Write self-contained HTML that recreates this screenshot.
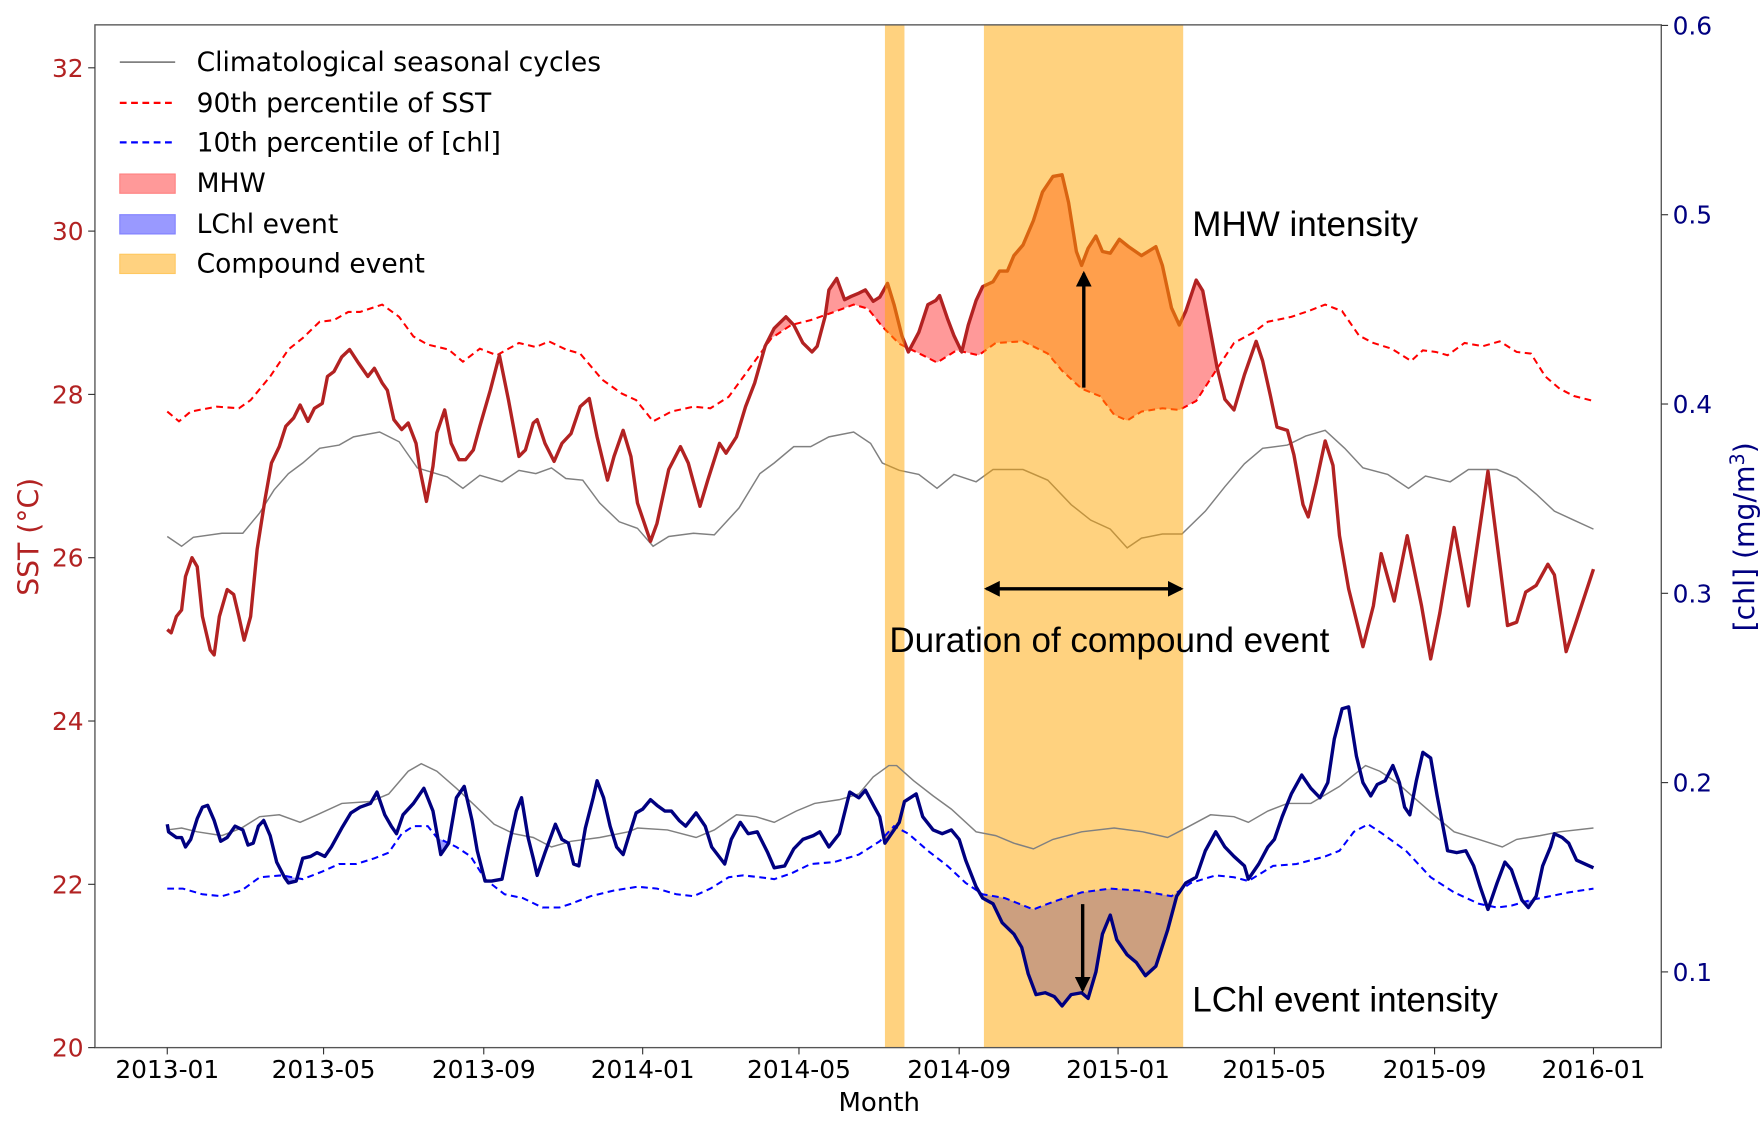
<!DOCTYPE html>
<html><head><meta charset="utf-8"><style>
html,body{margin:0;padding:0;background:#fff;}
svg{display:block;}
text{font-family:"DejaVu Sans","Liberation Sans",sans-serif;}
.ann{font-family:"Liberation Sans",sans-serif;}
</style></head><body>
<svg id="chart" width="1763" height="1123" viewBox="0 0 1560 993.7" xmlns="http://www.w3.org/2000/svg">
<g id="layer-fill"></g>
<g id="layer-sst"></g>
<g id="layer-band"></g>
<g id="layer-chl"></g>
<g id="layer-axes"></g>
</svg>
<script>
const sstDays=[0,3,7,11,14,19,23,27,33,36,40,46,51,55,59,64,69,75,80,86,91,97,102,108,113,119,123,128,134,140,147,154,159,165,169,174,180,185,191,194,199,204,207,213,218,224,229,235,240,248,255,262,270,275,281,284,290,297,303,310,317,324,330,338,343,350,356,361,371,376,385,394,400,409,415,424,429,437,444,451,459,466,475,481,488,495,499,505,508,514,520,525,531,536,542,547,553,558,564,569,577,584,590,593,599,604,610,615,621,626,634,639,645,650,657,665,672,680,687,692,698,702,707,713,718,724,731,738,748,753,759,764,771,777,782,790,795,801,806,812,819,827,836,841,847,852,860,865,872,876,882,889,895,900,907,918,926,932,942,952,963,970,977,988,999,1014,1029,1036,1043,1051,1060,1065,1074,1082,1095];
const sstVals=[25.12,25.08,25.28,25.36,25.77,26.0,25.89,25.28,24.87,24.81,25.28,25.61,25.55,25.28,24.99,25.28,26.1,26.71,27.16,27.36,27.61,27.71,27.87,27.67,27.83,27.89,28.22,28.28,28.46,28.55,28.38,28.22,28.32,28.14,28.05,27.69,27.57,27.65,27.4,27.08,26.69,27.12,27.53,27.81,27.4,27.2,27.2,27.32,27.61,28.05,28.48,27.93,27.24,27.32,27.65,27.69,27.4,27.18,27.4,27.52,27.85,27.95,27.48,26.95,27.24,27.56,27.24,26.67,26.2,26.42,27.08,27.36,27.16,26.63,26.95,27.4,27.28,27.48,27.85,28.14,28.59,28.81,28.95,28.85,28.63,28.52,28.59,28.95,29.28,29.42,29.16,29.2,29.24,29.28,29.14,29.19,29.36,29.1,28.72,28.52,28.76,29.1,29.15,29.21,28.93,28.72,28.52,28.85,29.15,29.32,29.38,29.51,29.51,29.7,29.83,30.13,30.48,30.67,30.69,30.35,29.75,29.58,29.79,29.94,29.75,29.73,29.9,29.81,29.7,29.75,29.81,29.58,29.06,28.85,29.02,29.4,29.27,28.76,28.33,27.94,27.81,28.24,28.65,28.41,27.98,27.6,27.56,27.26,26.65,26.5,26.91,27.43,27.13,26.27,25.62,24.91,25.41,26.05,25.47,26.27,25.41,24.76,25.32,26.37,25.41,27.06,25.17,25.21,25.58,25.66,25.92,25.79,24.85,25.23,25.86];
const sstP90Days=[0,9,18,38,55,64,79,93,104,117,128,139,148,165,178,189,200,216,227,240,253,270,283,293,306,317,334,349,360,373,387,404,417,431,448,464,479,494,512,527,538,549,562,580,591,606,623,636,657,676,687,702,716,727,737,748,764,777,790,805,819,834,845,863,876,889,902,915,926,940,955,964,974,983,996,1010,1023,1036,1047,1058,1069,1080,1095];
const sstP90Vals=[27.79,27.67,27.79,27.85,27.83,27.93,28.22,28.55,28.69,28.89,28.91,29.01,29.01,29.1,28.95,28.71,28.61,28.55,28.4,28.56,28.48,28.63,28.58,28.65,28.55,28.5,28.18,28.01,27.93,27.67,27.79,27.85,27.83,27.97,28.34,28.69,28.85,28.91,29.01,29.1,29.05,28.83,28.62,28.48,28.39,28.54,28.48,28.63,28.65,28.5,28.29,28.07,27.98,27.75,27.68,27.79,27.83,27.81,27.92,28.29,28.63,28.76,28.89,28.95,29.02,29.1,29.02,28.72,28.63,28.56,28.41,28.54,28.52,28.48,28.63,28.59,28.65,28.52,28.5,28.22,28.07,27.98,27.92];
const sstClimDays=[0,11,20,42,58,71,82,93,104,117,132,143,163,178,192,215,227,240,257,270,283,295,306,319,332,347,361,373,385,404,420,439,455,466,481,494,508,527,540,549,562,577,591,604,621,634,657,676,694,709,724,737,748,764,779,797,812,827,841,860,874,889,904,918,937,953,966,985,999,1021,1036,1051,1065,1080,1095];
const sstClimVals=[26.26,26.14,26.25,26.3,26.3,26.55,26.83,27.03,27.16,27.34,27.38,27.48,27.54,27.42,27.1,26.99,26.85,27.01,26.93,27.07,27.03,27.1,26.97,26.95,26.67,26.44,26.36,26.14,26.26,26.3,26.28,26.61,27.03,27.16,27.36,27.36,27.48,27.54,27.4,27.16,27.07,27.02,26.85,27.02,26.93,27.08,27.08,26.95,26.65,26.46,26.35,26.12,26.24,26.29,26.29,26.57,26.87,27.15,27.34,27.38,27.49,27.56,27.34,27.1,27.02,26.85,27.0,26.93,27.08,27.08,26.98,26.78,26.57,26.46,26.35];
const chlDays=[0,1,7,11,14,18,23,27,31,36,41,46,52,58,62,66,70,74,79,84,90,93,99,104,110,115,121,126,134,141,148,156,161,167,172,176,181,189,197,204,210,216,222,228,234,238,244,249,257,262,268,272,277,281,284,290,298,303,308,312,316,321,327,330,335,340,345,350,354,360,365,371,376,382,387,393,398,406,413,418,428,433,440,446,453,461,466,474,481,488,496,501,508,516,524,531,536,543,547,551,556,562,566,575,580,588,595,602,608,613,621,626,634,641,650,656,661,667,674,681,687,694,702,707,713,718,724,729,737,744,751,759,768,775,782,790,797,805,812,819,827,830,838,845,850,856,863,871,878,885,891,896,902,907,913,918,924,929,935,941,946,950,954,959,964,970,975,983,990,997,1003,1008,1014,1021,1027,1032,1040,1045,1051,1056,1062,1065,1071,1076,1082,1095];
const chlVals=[0.178,0.174,0.171,0.171,0.166,0.17,0.181,0.187,0.188,0.18,0.169,0.171,0.177,0.175,0.167,0.168,0.177,0.18,0.172,0.158,0.15,0.147,0.148,0.16,0.161,0.163,0.161,0.166,0.176,0.184,0.187,0.189,0.195,0.183,0.177,0.173,0.183,0.189,0.197,0.185,0.162,0.168,0.192,0.198,0.18,0.164,0.148,0.148,0.149,0.166,0.185,0.192,0.171,0.16,0.151,0.163,0.178,0.17,0.168,0.157,0.156,0.176,0.192,0.201,0.192,0.177,0.166,0.162,0.171,0.184,0.186,0.191,0.188,0.185,0.185,0.18,0.177,0.184,0.177,0.166,0.157,0.17,0.179,0.173,0.174,0.163,0.155,0.156,0.165,0.17,0.172,0.174,0.166,0.173,0.195,0.192,0.196,0.187,0.182,0.168,0.173,0.179,0.19,0.194,0.182,0.175,0.173,0.175,0.17,0.159,0.145,0.139,0.136,0.126,0.12,0.113,0.099,0.088,0.089,0.087,0.082,0.088,0.089,0.086,0.1,0.12,0.13,0.117,0.109,0.105,0.098,0.103,0.122,0.14,0.147,0.15,0.164,0.174,0.166,0.161,0.156,0.149,0.157,0.166,0.17,0.182,0.194,0.204,0.197,0.192,0.2,0.223,0.239,0.24,0.214,0.2,0.193,0.199,0.201,0.209,0.2,0.187,0.183,0.201,0.216,0.213,0.193,0.164,0.163,0.164,0.156,0.145,0.133,0.147,0.158,0.154,0.138,0.134,0.14,0.156,0.166,0.173,0.171,0.168,0.159,0.155];
const chlP10Days=[0,12,27,42,57,71,88,104,119,132,145,159,170,180,189,200,207,222,233,244,259,273,288,301,310,325,343,361,376,391,404,417,431,442,455,466,479,494,512,531,547,558,569,584,599,613,626,643,665,680,702,724,746,771,786,805,819,830,849,867,889,900,911,922,933,951,970,988,1007,1021,1032,1047,1062,1076,1095];
const chlP10Vals=[0.144,0.144,0.141,0.14,0.143,0.15,0.151,0.149,0.153,0.157,0.157,0.16,0.163,0.173,0.177,0.177,0.171,0.166,0.161,0.149,0.141,0.139,0.134,0.134,0.136,0.14,0.143,0.145,0.144,0.141,0.14,0.144,0.15,0.151,0.15,0.149,0.152,0.157,0.158,0.162,0.169,0.177,0.173,0.164,0.156,0.147,0.141,0.139,0.133,0.137,0.142,0.144,0.143,0.14,0.147,0.151,0.15,0.148,0.156,0.157,0.161,0.164,0.174,0.178,0.173,0.164,0.15,0.142,0.136,0.134,0.135,0.138,0.14,0.142,0.144];
const chlClimDays=[0,11,23,42,57,71,86,102,115,134,156,170,185,195,207,222,236,251,266,281,295,310,332,354,361,384,406,420,437,452,466,483,497,516,531,542,554,560,573,588,602,621,636,650,665,680,702,727,749,768,782,801,819,830,845,860,878,900,920,931,944,959,974,988,1007,1025,1036,1054,1069,1095];
const chlClimVals=[0.175,0.176,0.174,0.172,0.176,0.182,0.183,0.179,0.183,0.189,0.19,0.194,0.206,0.21,0.206,0.197,0.188,0.178,0.173,0.171,0.166,0.169,0.171,0.174,0.176,0.175,0.171,0.175,0.183,0.182,0.179,0.185,0.189,0.191,0.194,0.203,0.209,0.209,0.201,0.193,0.186,0.174,0.172,0.168,0.165,0.17,0.174,0.176,0.174,0.171,0.176,0.183,0.182,0.179,0.185,0.189,0.189,0.198,0.209,0.206,0.2,0.191,0.182,0.174,0.17,0.166,0.17,0.172,0.174,0.176];
const compoundStart=[551,627];
const compoundEnd=[566,780];
const xTickLabels=["2013-01","2013-05","2013-09","2014-01","2014-05","2014-09","2015-01","2015-05","2015-09","2016-01"];
const xTickDays=[0,120,243,365,485,608,730,850,973,1095];
const sstTicks=[20,22,24,26,28,30,32];
const chlTicks=[0.1,0.2,0.3,0.4,0.5,0.6];

const NS="http://www.w3.org/2000/svg";
const L=84,R=1470,T=22,B=927;
function xS(d){return 148+d*1262/1095;}
function ySST(t){return 927-(t-20)*72.25;}
function yChl(c){return 860-(c-0.1)*1675;}
function mk(tag,attrs,parent){const e=document.createElementNS(NS,tag);for(const k in attrs)e.setAttribute(k,attrs[k]);parent.appendChild(e);return e;}
function pathD(days,vals,yf){return days.map((d,i)=>(i?'L':'M')+xS(d).toFixed(2)+','+yf(vals[i]).toFixed(2)).join('');}
function interp(days,vals,d){if(d<=days[0])return vals[0];for(let i=1;i<days.length;i++){if(d<=days[i]){const f=(d-days[i-1])/(days[i]-days[i-1]);return vals[i-1]+f*(vals[i]-vals[i-1]);}}return vals[vals.length-1];}
function fillRegions(ad,av,bd,bv,yf,cond,color,parent,name){
  const step=0.5;let run=[];
  const flush=()=>{if(run.length>1){let d='M'+run.map(p=>xS(p[0]).toFixed(2)+','+yf(p[1]).toFixed(2)).join('L');for(let i=run.length-1;i>=0;i--)d+='L'+xS(run[i][0]).toFixed(2)+','+yf(run[i][2]).toFixed(2);d+='Z';
    const p=mk('path',{d:d,fill:color,stroke:'none'},parent);
    
    }run=[];};
  for(let d=0;d<=1095;d+=step){const a=interp(ad,av,d),b=interp(bd,bv,d);if(cond(a,b))run.push([d,a,b]);else flush();}
  flush();
}
const gF=document.getElementById('layer-fill'),gS=document.getElementById('layer-sst'),gB=document.getElementById('layer-band'),gC=document.getElementById('layer-chl'),gA=document.getElementById('layer-axes');
fillRegions(sstDays,sstVals,sstP90Days,sstP90Vals,ySST,(a,b)=>a>b,'rgba(255,0,0,0.4)',gF,'mhw-fill');
fillRegions(chlDays,chlVals,chlP10Days,chlP10Vals,yChl,(a,b)=>a<b,'rgba(0,0,255,0.4)',gF,'lchl-fill');
let e;
e=mk('path',{d:pathD(sstClimDays,sstClimVals,ySST),fill:'none',stroke:'#808080','stroke-width':1.3},gS);


e=mk('path',{d:pathD(sstP90Days,sstP90Vals,ySST),fill:'none',stroke:'#ff0000','stroke-width':1.8,'stroke-dasharray':'6,4'},gS);


e=mk('path',{d:pathD(sstDays,sstVals,ySST),fill:'none',stroke:'#b22222','stroke-width':3,'stroke-linejoin':'round'},gS);


compoundStart.forEach((s,i)=>{const b=mk('rect',{x:xS(s),y:T,width:xS(compoundEnd[i])-xS(s),height:B-T,fill:'rgba(255,165,0,0.5)'},gB);
  
  });
e=mk('path',{d:pathD(chlClimDays,chlClimVals,yChl),fill:'none',stroke:'#808080','stroke-width':1.3},gC);


e=mk('path',{d:pathD(chlP10Days,chlP10Vals,yChl),fill:'none',stroke:'#0000ff','stroke-width':1.8,'stroke-dasharray':'6,4'},gC);


e=mk('path',{d:pathD(chlDays,chlVals,yChl),fill:'none',stroke:'#000080','stroke-width':3,'stroke-linejoin':'round'},gC);


e=mk('rect',{x:L,y:T,width:R-L,height:B-T,fill:'none',stroke:'#555','stroke-width':1.2},gA);


xTickDays.forEach((d,i)=>{const x=xS(d);mk('line',{x1:x,x2:x,y1:B,y2:B+6,stroke:'#333','stroke-width':1},gA);
  const t=mk('text',{x:x,y:954,'font-size':22,'text-anchor':'middle',fill:'#000'},gA);t.textContent=xTickLabels[i];
  
  });
sstTicks.forEach(v=>{const y=ySST(v);mk('line',{x1:L-6,x2:L,y1:y,y2:y,stroke:'#333','stroke-width':1},gA);
  const t=mk('text',{x:L-10,y:y+8,'font-size':22,'text-anchor':'end',fill:'#b22222'},gA);t.textContent=v;
  
  });
chlTicks.forEach(v=>{const y=yChl(v);mk('line',{x1:R,x2:R+6,y1:y,y2:y,stroke:'#333','stroke-width':1},gA);
  const t=mk('text',{x:R+10,y:y+8,'font-size':22,'text-anchor':'start',fill:'#000080'},gA);t.textContent=v.toFixed(1);
  
  });
</script>
<svg style="position:absolute;left:0;top:0" width="1763" height="1123" viewBox="0 0 1560 993.7" xmlns="http://www.w3.org/2000/svg">
<defs><marker id="ah2" viewBox="0 0 12 12" markerWidth="14" markerHeight="14" refX="10" refY="6" orient="auto-start-reverse" markerUnits="userSpaceOnUse"><path d="M0,0 L12,6 L0,12 Z" fill="#000"/></marker></defs>
<text x="778" y="983" font-size="23" text-anchor="middle">Month</text>
<text transform="translate(34,475) rotate(-90)" font-size="25" text-anchor="middle" fill="#b22222">SST (°C)</text>
<text transform="translate(1552,475) rotate(-90)" font-size="25" text-anchor="middle" fill="#000080">[chl] (mg/m<tspan dy="-9" font-size="17">3</tspan><tspan dy="9">)</tspan></text>
<g font-size="23.5">
<g><line x1="106" x2="155" y1="55" y2="55" stroke="#808080" stroke-width="1.5"/><text x="174" y="63">Climatological seasonal cycles</text></g>
<g><line x1="106" x2="155" y1="91" y2="91" stroke="#ff0000" stroke-width="2" stroke-dasharray="6,4"/><text x="174" y="99">90th percentile of SST</text></g>
<g><line x1="106" x2="155" y1="126" y2="126" stroke="#0000ff" stroke-width="2" stroke-dasharray="6,4"/><text x="174" y="134">10th percentile of [chl]</text></g>
<g><rect x="106" y="154" width="49" height="17" fill="#ff9999" stroke="#ff8080"/><text x="174" y="170">MHW</text></g>
<g><rect x="106" y="190" width="49" height="17" fill="#9999ff" stroke="#8080ff"/><text x="174" y="206">LChl event</text></g>
<g><rect x="106" y="225" width="49" height="17" fill="#ffd280" stroke="#ffc860"/><text x="174" y="241">Compound event</text></g>
</g>
<line x1="959" y1="343" x2="959" y2="242" stroke="#000" stroke-width="3" marker-end="url(#ah2)"/>
<line x1="873" y1="521" x2="1045" y2="521" stroke="#000" stroke-width="3" marker-start="url(#ah2)" marker-end="url(#ah2)"/>
<line x1="958" y1="800" x2="958" y2="876" stroke="#000" stroke-width="3" marker-end="url(#ah2)"/>
<text class="ann" x="1055" y="209" font-size="31">MHW intensity</text>
<text class="ann" x="787" y="577" font-size="31">Duration of compound event</text>
<text class="ann" x="1055" y="895" font-size="31">LChl event intensity</text>
</svg>
</body></html>
